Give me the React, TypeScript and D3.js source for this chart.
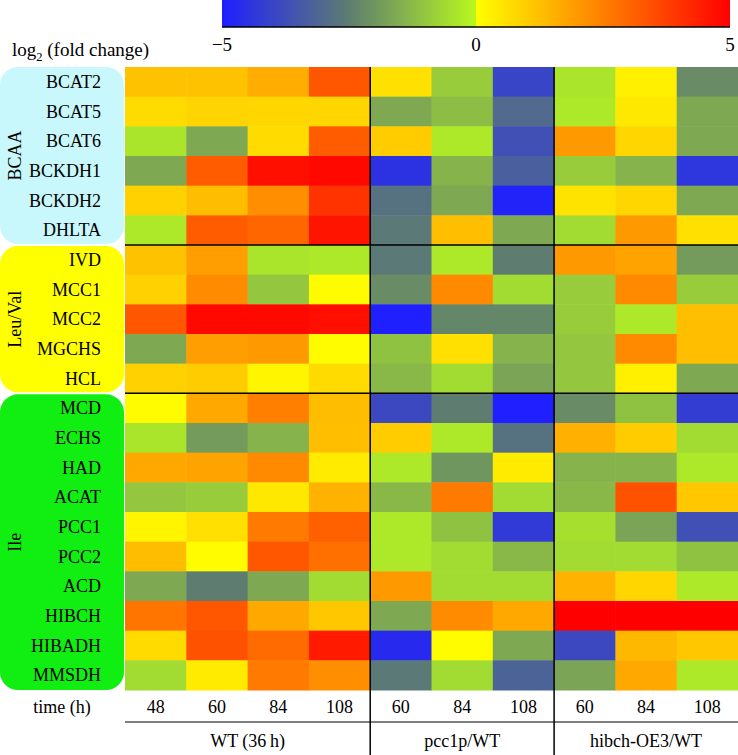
import React from "react";
import * as d3 from "d3";

const genes = [
  "BCAT2", "BCAT5", "BCAT6", "BCKDH1", "BCKDH2", "DHLTA",
  "IVD", "MCC1", "MCC2", "MGCHS", "HCL",
  "MCD", "ECHS", "HAD", "ACAT", "PCC1", "PCC2", "ACD", "HIBCH", "HIBADH", "MMSDH",
];

const pathways = [
  { name: "BCAA", start: 0, count: 6, color: "#c8f8fb" },
  { name: "Leu/Val", start: 6, count: 5, color: "#ffff00" },
  { name: "Ile", start: 11, count: 10, color: "#11ee11" },
];

const timeLabels = ["48", "60", "84", "108", "60", "84", "108", "60", "84", "108"];
const conditions = [
  { name: "WT (36\u2009h)", start: 0, count: 4 },
  { name: "pcc1p/WT", start: 4, count: 3 },
  { name: "hibch-OE3/WT", start: 7, count: 3 },
];

// log2 fold change, columns: WT48, WT60, WT84, WT108, P60, P84, P108, H60, H84, H108
const values: number[][] = [
  [1.2, 1.2, 1.6, 3.3, 0.6, -0.9, -4.0, -0.4, 0.3, -2.2],
  [0.7, 0.85, 0.8, 0.8, -1.6, -1.2, -3.0, -0.3, 0.45, -1.6],
  [-0.4, -1.6, 0.7, 3.2, 1.0, -0.3, -3.7, 2.0, 0.8, -1.6],
  [-1.6, 3.2, 4.7, 4.85, -4.5, -1.4, -3.3, -0.9, -1.4, -4.4],
  [0.9, 1.3, 2.2, 4.0, -2.8, -1.6, -4.9, 0.55, 0.8, -1.6],
  [-0.3, 3.2, 3.0, 4.6, -2.6, 1.25, -1.6, -0.6, 2.0, 0.6],
  [1.2, 1.9, -0.4, -0.3, -2.6, -0.3, -2.5, 2.0, 1.8, -1.9],
  [0.9, 2.25, -1.0, 0.05, -2.2, 2.3, -0.6, -0.9, 2.3, -0.9],
  [3.3, 4.85, 4.85, 4.7, -5.0, -2.3, -2.3, -0.9, -0.3, 1.25],
  [-1.6, 1.9, 2.0, 0.05, -1.1, 0.6, -1.4, -1.0, 2.3, 1.25],
  [0.9, 1.0, 0.2, 0.7, -1.3, -0.6, -1.7, -1.0, 0.3, -1.6],
  [0.05, 1.7, 2.5, 1.3, -3.9, -2.5, -5.0, -2.2, -1.1, -4.2],
  [-0.4, -1.9, -1.4, 1.25, 1.0, -0.3, -2.8, 1.55, 1.0, -0.6],
  [1.7, 1.8, 2.3, 0.4, -0.3, -2.0, 0.4, -1.4, -1.4, -0.3],
  [-1.0, -0.9, 0.45, 1.5, -1.3, 2.6, -0.6, -1.3, 3.4, 1.1],
  [0.2, 0.6, 2.6, 3.1, -0.3, -1.1, -4.3, -0.5, -1.7, -3.7],
  [1.3, 0.05, 3.3, 2.8, -0.3, -0.6, -1.3, -0.6, -0.6, -1.1],
  [-1.6, -2.5, -1.6, -0.6, 2.0, -0.6, -0.6, 1.5, 0.8, -0.3],
  [2.7, 3.3, 1.7, 1.1, -1.6, 2.25, 1.7, 5.0, 5.0, 5.0],
  [0.7, 3.4, 2.9, 4.5, -4.7, 0.05, -1.6, -3.9, 1.4, 1.1],
  [-0.6, 0.4, 2.6, 2.2, -2.6, -0.6, -3.2, -1.7, 1.7, -0.3],
];

const legendTicks = [-5, 0, 5];
const legendTickLabels = ["\u22125", "0", "5"];

const W = 738;
const H = 755;
const FONT = '"Liberation Serif", "DejaVu Serif", "Times New Roman", serif';

export default function App() {
  const heatLeft = 125;
  const heatRight = 738;
  const heatTop = 67;
  const heatBottom = 690;

  const x = d3.scaleBand<number>().domain(d3.range(timeLabels.length)).range([heatLeft, heatRight]);
  const y = d3.scaleBand<number>().domain(d3.range(genes.length)).range([heatTop, heatBottom]);

  const color = d3
    .scaleLinear<string>()
    .domain([-5, -2.5, -0.001, 0, 5])
    .range(["#1f1fff", "#5e7d70", "#b8f81e", "#ffff00", "#ff0000"])
    .interpolate(d3.interpolateRgb)
    .clamp(true);

  const legendX = d3.scaleLinear().domain([-5, 5]).range([222, 730]);
  const stops = [
    ...d3.range(-5, -0.0001, 0.1).map((v) => ({ offset: (v + 5) / 10, color: color(v) })),
    { offset: 0.5, color: color(-0.001) },
    { offset: 0.5, color: color(0) },
    ...d3.range(0.1, 5.0001, 0.1).map((v) => ({ offset: (v + 5) / 10, color: color(v) })),
  ];

  const boundaryRows = [6, 11];
  const boundaryCols = [4, 7];
  const boxGap = 1;

  return (
    <svg
      width={W}
      height={H}
      style={{ display: "block", position: "absolute", left: 0, top: 0, fontFamily: FONT }}
    >
      <defs>
        <linearGradient id="lg" x1="0" x2="1" y1="0" y2="0">
          {stops.map((s, i) => (
            <stop key={i} offset={s.offset} stopColor={s.color} />
          ))}
        </linearGradient>
      </defs>
      <rect x={0} y={0} width={W} height={H} fill="#fff" />

      {/* colour bar */}
      <rect x={legendX(-5)} y={0} width={legendX(5) - legendX(-5)} height={27} fill="url(#lg)" />
      <line x1={legendX(-5)} x2={legendX(5)} y1={27} y2={27} stroke="#000" strokeWidth={1.5} />
      {legendTicks.map((t, i) => (
        <text key={t} x={legendX(t)} y={51} textAnchor="middle" fontSize={19}>
          {legendTickLabels[i]}
        </text>
      ))}
      <text x={12} y={56} fontSize={19}>
        log<tspan fontSize={12.5} dy={5}>2</tspan>
        <tspan dy={-5}> (fold change)</tspan>
      </text>

      {/* pathway boxes */}
      {pathways.map((p) => {
        const top = y(p.start)! + (p.start === 0 ? 0 : boxGap);
        const bottom =
          y(p.start + p.count - 1)! + y.bandwidth() - (p.start + p.count === genes.length ? 0 : boxGap);
        return (
          <g key={p.name}>
            <rect x={0} y={top} width={124} height={bottom - top} rx={18} ry={18} fill={p.color} />
            <text transform={`translate(21,${(top + bottom) / 2}) rotate(-90)`} textAnchor="middle" fontSize={18}>
              {p.name}
            </text>
          </g>
        );
      })}

      {/* gene labels */}
      {genes.map((g, i) => (
        <text key={g} x={101} y={y(i)! + y.bandwidth() / 2 + 6} textAnchor="end" fontSize={18}>
          {g}
        </text>
      ))}

      {/* cells */}
      {values.map((row, r) =>
        row.map((v, c) => (
          <rect
            key={`${r}-${c}`}
            x={x(c)!}
            y={y(r)!}
            width={x.bandwidth() + 0.5}
            height={y.bandwidth() + 0.5}
            fill={color(v)}
          />
        ))
      )}

      {/* separators */}
      {boundaryRows.map((r) => (
        <line key={`r${r}`} x1={heatLeft} x2={heatRight} y1={y(r)!} y2={y(r)!} stroke="#000" strokeWidth={1.5} />
      ))}
      {boundaryCols.map((c) => (
        <line key={`c${c}`} x1={x(c)!} x2={x(c)!} y1={heatTop} y2={H} stroke="#000" strokeWidth={1.5} />
      ))}

      {/* time axis */}
      <text x={62} y={713} textAnchor="middle" fontSize={18}>
        time (h)
      </text>
      {timeLabels.map((t, i) => (
        <text key={i} x={x(i)! + x.bandwidth() / 2} y={713} textAnchor="middle" fontSize={18}>
          {t}
        </text>
      ))}
      <line x1={heatLeft} x2={heatRight} y1={722} y2={722} stroke="#000" strokeWidth={1.2} />
      {conditions.map((c) => {
        const cx = (x(c.start)! + x(c.start + c.count - 1)! + x.bandwidth()) / 2;
        return (
          <text key={c.name} x={cx} y={747} textAnchor="middle" fontSize={18}>
            {c.name}
          </text>
        );
      })}
    </svg>
  );
}
